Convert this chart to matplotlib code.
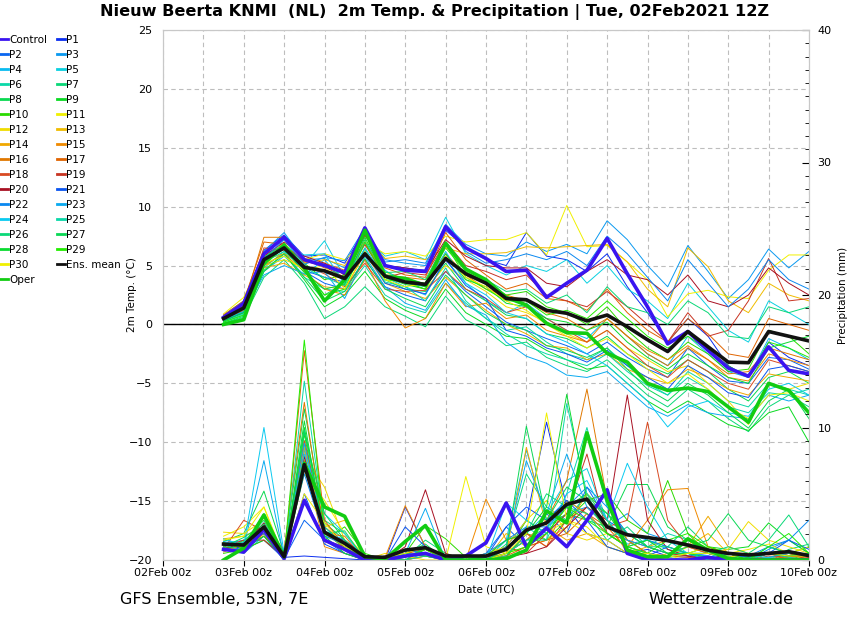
import pandas as pd
import matplotlib
matplotlib.use('Agg')
import matplotlib.pyplot as plt
import matplotlib.dates as mdates
from matplotlib.lines import Line2D
from matplotlib.ticker import MultipleLocator

# 6-hourly steps, 02Feb 18z .. 10Feb 00z
times = pd.date_range('2021-02-02 18:00', '2021-02-10 00:00', freq='6h')

members = ['Control'] + ['P%d' % i for i in range(1, 31)]
colors = ['#3a14f0', '#0a2ef0', '#0a66f0', '#0a99f0', '#0abbf0', '#0ad0e0',
          '#0ad8a8', '#0ad878', '#0ad850', '#0ada22', '#2ada00', '#f0f000',
          '#f0dc00', '#f0bc00', '#f0a800', '#f08a00', '#e07800', '#e06400',
          '#d84a22', '#c83422', '#a81022', '#0a55f0', '#0a88f0', '#0aaaf0',
          '#0acaf0', '#0ad8a8', '#0ad878', '#0ad855', '#0ada30', '#22ee00',
          '#f0f000']

# 2m temperature (°C)
temp = {
    'Control': [0.6,1.8,6.0,7.4,5.5,5.0,4.4,8.2,5.0,4.6,4.5,8.3,6.5,5.6,4.5,4.6,2.3,3.5,4.6,7.3,4.3,1.5,-1.65,-0.6,-2.2,-3.7,-4.4,-1.9,-3.9,-4.2],
    'P1':  [0.7,1.9,6.3,7.6,5.8,5.9,5.2,8.0,5.0,4.8,4.6,8.0,6.5,5.5,5.0,7.8,5.8,5.5,4.5,6.0,3.2,1.0,-1.5,0.5,-1.0,-3.5,-4.5,-1.5,-2.8,-3.5],
    'P2':  [0.4,1.2,5.5,6.4,4.5,3.5,3.0,5.5,3.2,2.5,2.0,4.5,2.8,1.5,0.2,-0.5,-1.2,-1.8,-2.5,-1.5,-2.8,-3.8,-4.5,-2.0,-3.5,-4.8,-5.0,-2.8,-3.0,-3.8],
    'P3':  [0.8,2.0,6.2,7.8,5.5,5.6,4.8,8.0,5.5,5.2,5.0,8.5,6.8,6.0,5.8,7.0,6.2,6.8,6.0,8.8,7.2,5.0,3.2,6.7,4.5,2.2,3.8,6.4,4.8,6.2],
    'P4':  [0.3,1.0,4.5,5.8,4.2,5.5,3.5,6.5,4.0,3.2,2.5,5.5,3.5,2.0,1.0,1.8,0.5,-0.5,-1.2,0.5,-1.0,-2.5,-3.5,-1.0,-2.5,-4.0,-4.5,-1.2,-2.0,-3.0],
    'P5':  [0.5,1.5,5.0,6.0,5.0,7.1,4.0,7.5,5.8,6.2,5.5,9.1,6.0,5.0,4.2,5.0,4.5,5.5,3.5,5.0,3.0,2.0,0.5,3.5,1.5,-0.5,-1.5,2.0,1.0,0.0],
    'P6':  [0.2,0.8,4.8,6.2,4.0,3.0,2.8,5.0,2.5,1.5,1.0,3.5,1.8,0.5,-0.5,-0.2,-1.5,-2.5,-3.0,-2.0,-3.5,-5.0,-6.0,-4.0,-5.0,-6.5,-7.0,-5.0,-5.5,-6.0],
    'P7':  [0.1,0.6,4.0,5.5,3.5,0.5,1.5,3.2,1.5,0.7,-0.2,2.4,0.4,-0.5,-1.8,-1.5,-2.8,-3.5,-4.0,-3.0,-4.5,-6.0,-7.0,-5.5,-6.5,-8.0,-9.1,-7.0,-6.0,-7.0],
    'P8':  [0.3,1.1,5.2,6.6,4.6,2.5,3.5,7.2,3.8,3.0,2.8,5.2,3.0,2.0,0.8,0.5,-0.8,-1.2,-2.0,-1.0,-2.5,-3.5,-4.2,-3.0,-4.0,-5.5,-6.5,-4.5,-4.0,-5.0],
    'P9':  [0.0,0.5,4.5,6.0,3.8,1.5,2.5,4.5,2.2,1.2,0.5,3.0,1.0,0.0,-1.0,-1.2,-2.2,-3.0,-3.8,-3.5,-5.0,-6.5,-7.5,-6.5,-7.5,-8.5,-9.0,-7.5,-7.0,-10.0],
    'P10': [0.4,1.3,5.6,6.9,5.2,3.8,4.2,7.8,4.5,3.8,3.5,6.5,4.5,3.6,2.5,2.8,1.5,1.0,0.0,1.5,-0.5,-2.0,-3.0,-1.5,-2.5,-4.0,-3.8,-0.5,-1.0,-2.5],
    'P11': [0.9,2.3,5.8,6.8,5.5,6.0,5.5,7.0,6.0,6.2,5.8,7.5,7.0,7.2,7.2,7.8,5.9,10.1,6.6,6.7,5.3,3.8,0.65,2.6,2.9,2.35,2.2,4.6,5.9,5.9],
    'P12': [0.6,1.6,5.0,5.5,4.8,4.5,3.8,6.8,4.5,3.5,3.0,5.0,3.8,2.8,1.5,1.0,0.2,-0.8,-1.5,-0.5,-2.0,-3.0,-4.0,-3.5,-5.0,-6.5,-8.5,-5.0,-5.5,-5.0],
    'P13': [0.7,1.8,5.5,6.0,5.2,5.5,5.0,7.5,5.6,5.8,5.5,6.5,6.0,6.0,6.1,6.6,6.5,6.6,6.7,6.8,5.3,3.0,1.5,6.5,4.9,2.0,1.0,3.5,2.5,2.0],
    'P14': [0.5,1.4,4.8,5.2,4.2,3.2,3.0,6.0,3.5,2.8,2.2,4.0,2.5,1.2,0.0,-0.8,-1.8,-2.0,-3.0,-2.5,-3.8,-4.5,-5.0,-3.8,-4.5,-5.5,-6.0,-4.2,-4.5,-4.8],
    'P15': [0.4,1.2,5.0,6.0,4.5,3.0,2.5,5.5,2.0,-0.3,0.5,3.5,1.5,1.8,0.5,0.8,-0.5,-1.0,-1.5,0.5,-1.0,-2.2,-3.0,-1.8,-3.0,-4.5,-4.8,-2.5,-3.0,-3.5],
    'P16': [0.6,1.7,7.4,7.4,5.6,4.8,4.5,7.0,4.2,4.0,3.8,6.0,4.2,3.0,2.5,2.0,1.0,0.5,-0.5,0.5,-1.0,-2.5,-3.5,-2.0,-3.0,-4.2,-4.0,-2.0,-2.5,-3.0],
    'P17': [0.8,2.0,7.0,6.8,5.3,5.2,4.6,7.9,4.8,4.2,4.0,7.8,5.5,4.2,3.0,3.5,2.2,2.0,1.2,3.0,1.0,-0.5,-1.5,0.5,-0.8,-2.5,-2.8,0.5,0.0,-0.5],
    'P18': [0.5,1.5,6.5,6.3,5.0,4.3,3.2,5.2,3.0,2.8,2.9,4.5,3.0,2.2,1.0,1.5,0.5,-0.5,-1.5,-0.5,-2.0,-3.5,-4.5,-3.0,-4.0,-5.0,-5.5,-3.0,-3.5,-4.0],
    'P19': [0.6,1.6,6.0,6.6,5.4,4.9,4.0,6.8,4.0,4.4,4.2,7.0,5.0,4.5,3.8,4.2,2.5,2.0,1.5,2.8,1.5,0.0,-1.5,1.0,-1.0,-0.5,2.0,5.6,2.0,2.2],
    'P20': [0.7,1.8,5.8,7.0,5.8,5.2,4.2,7.6,5.0,4.8,4.5,7.2,5.8,5.0,4.8,4.8,3.5,3.2,4.5,5.5,4.2,3.8,2.5,4.2,2.0,1.5,2.5,4.8,3.5,2.5],
    'P21': [0.3,1.0,5.2,6.5,4.6,4.0,3.6,6.2,3.5,3.0,2.6,5.5,3.3,2.2,-0.5,-1.0,-2.0,-2.5,-3.2,-2.2,-3.5,-4.5,-5.5,-3.5,-4.5,-5.8,-6.2,-3.8,-3.5,-4.0],
    'P22': [0.6,1.5,5.6,7.2,5.1,5.7,5.4,8.2,5.3,5.5,5.2,8.3,6.2,5.2,5.5,6.0,5.5,6.2,5.0,7.5,6.0,4.0,2.0,5.5,3.5,1.5,3.0,5.5,3.8,3.0],
    'P23': [0.4,1.1,4.2,5.0,4.3,4.5,2.2,5.8,3.2,1.8,1.2,3.8,1.6,0.8,-1.5,-2.7,-3.3,-4.3,-4.5,-4.0,-5.5,-7.0,-7.8,-6.8,-7.5,-7.8,-8.0,-6.0,-6.5,-6.0],
    'P24': [0.5,1.3,5.0,6.6,5.9,6.0,3.5,7.0,4.6,3.5,3.2,6.2,3.5,2.5,1.0,0.5,-0.8,-1.5,-2.5,-3.5,-5.0,-6.5,-8.7,-7.0,-6.5,-7.5,-7.8,-5.5,-5.0,-6.0],
    'P25': [0.2,0.9,5.3,6.2,4.8,4.0,3.3,6.4,3.6,3.2,2.0,4.8,2.0,0.5,-0.8,-1.8,-2.5,-3.0,-3.5,-2.5,-4.0,-5.2,-6.0,-4.5,-5.5,-7.0,-7.5,-5.8,-6.0,-5.5],
    'P26': [0.4,1.4,5.7,6.8,5.0,4.5,4.4,7.8,4.4,4.5,3.8,7.0,4.8,3.8,2.8,3.0,1.8,2.5,1.0,3.2,1.5,1.0,0.0,2.0,1.0,-1.0,-1.2,1.5,1.0,1.5],
    'P27': [0.1,0.7,4.6,6.0,4.0,2.0,2.8,5.6,3.0,2.2,1.5,4.2,2.5,1.0,0.0,-0.5,-1.8,-2.2,-2.8,-2.0,-3.8,-5.5,-6.5,-5.0,-6.0,-7.5,-8.8,-6.5,-5.5,-8.0],
    'P28': [0.3,1.0,5.4,6.4,4.4,3.0,3.4,7.4,4.0,3.4,3.0,6.0,3.8,3.2,1.8,1.5,0.5,0.2,-0.5,0.2,-1.5,-2.8,-3.8,-2.5,-3.5,-4.5,-5.0,-2.0,-1.5,-1.0],
    'P29': [0.2,0.8,5.0,6.9,4.7,2.5,3.0,7.0,3.8,3.6,3.0,6.8,4.0,3.0,2.0,2.0,0.8,1.2,0.5,2.0,0.5,-1.0,-2.0,-1.0,-2.2,-3.5,-4.5,-1.5,-2.0,-2.8],
    'P30': [0.7,1.9,5.2,5.8,4.6,5.0,3.0,6.2,3.8,3.2,3.5,5.8,4.0,3.2,2.0,1.2,0.0,-1.0,-2.0,-1.2,-2.5,-3.8,-5.0,-4.2,-5.5,-7.0,-8.0,-6.0,-5.8,-6.5],
}
temp_oper = [0.0,0.4,5.2,6.7,4.8,2.0,3.8,8.0,4.1,3.9,3.3,6.9,4.7,3.8,2.3,1.65,0.1,-0.7,-0.75,-2.45,-3.2,-5.0,-5.6,-5.4,-5.7,-7.0,-8.3,-5.0,-5.6,-7.5]
temp_mean = [0.5,1.4,5.5,6.5,4.85,4.55,3.9,6.0,4.1,3.6,3.4,5.6,4.3,3.5,2.2,2.1,1.2,0.95,0.3,0.8,-0.2,-1.3,-2.3,-0.6,-1.9,-3.2,-3.25,-0.6,-1.0,-1.4]

# 6-hourly precipitation (mm)
prec = {
    'Control': [0.8,0.6,2.3,0.1,4.5,1.5,0.8,0.0,0.0,0.3,0.5,0.0,0.3,1.3,4.3,1.0,2.4,1.0,3.0,5.3,0.5,0.0,0.0,0.0,0.2,0.0,0.0,0.0,0.0,0.0],
    'P1':  [0.8,1.0,2.0,0.2,0.3,0.2,0.1,0.0,0.0,4.0,1.0,0.0,0.0,0.2,1.0,3.0,10.4,4.0,2.0,1.5,0.5,0.8,0.3,0.2,0.0,0.0,0.0,0.5,0.2,0.0],
    'P2':  [1.0,0.8,1.5,0.1,3.0,1.5,0.5,0.0,0.2,0.5,0.3,0.0,0.0,0.5,2.5,1.0,3.5,2.0,5.5,3.0,2.0,1.0,0.5,0.3,0.5,0.0,0.0,0.0,0.3,0.5],
    'P3':  [1.2,1.5,2.5,0.0,7.0,2.0,1.0,0.2,0.0,0.8,0.5,0.2,0.0,0.0,0.5,1.5,2.0,3.5,4.0,2.5,3.5,2.0,1.5,1.0,0.5,0.2,0.0,0.8,1.5,0.5],
    'P4':  [1.5,1.2,2.8,0.3,8.3,2.5,1.2,0.0,0.0,0.3,0.8,0.0,0.0,0.0,1.5,8.3,3.0,4.5,3.5,2.0,1.0,0.5,0.2,0.0,0.0,0.5,0.2,0.0,0.0,0.0],
    'P5':  [1.3,1.0,3.5,0.0,8.8,1.8,1.5,0.3,0.0,0.5,1.0,0.0,0.0,0.0,0.3,2.0,3.5,6.0,6.9,3.0,1.2,1.5,0.8,0.5,0.3,0.0,0.0,0.2,0.5,0.3],
    'P6':  [0.9,0.5,1.8,0.0,9.0,2.2,0.8,0.0,0.2,0.0,0.5,0.0,0.0,0.3,0.8,2.5,1.5,5.0,10.0,4.0,2.0,1.0,2.0,1.5,0.5,0.0,0.0,1.0,0.5,0.0],
    'P7':  [1.1,1.3,2.2,0.2,7.5,3.0,2.0,0.2,0.0,0.2,1.5,0.5,0.0,0.0,1.2,6.5,4.0,3.0,5.0,2.0,1.0,1.5,1.0,2.5,1.0,0.5,0.0,0.0,0.8,1.2],
    'P8':  [1.4,2.0,5.2,0.5,11.4,2.8,1.5,0.0,0.0,0.5,1.2,0.0,0.0,0.0,0.5,1.5,2.5,3.5,3.0,2.5,5.7,5.7,2.5,1.5,0.5,0.2,0.0,0.5,0.5,1.0],
    'P9':  [0.7,1.5,2.0,0.0,10.0,2.0,1.0,0.0,0.3,0.0,0.8,0.2,0.0,0.0,0.5,3.0,2.0,4.0,5.0,3.5,1.5,0.5,0.2,0.5,1.0,0.8,1.0,2.8,1.5,0.5],
    'P10': [0.5,0.8,1.5,0.3,9.5,1.5,2.5,0.5,0.0,0.5,2.6,1.6,0.2,0.0,0.2,2.0,1.5,3.0,4.5,5.0,3.0,2.0,6.0,2.0,0.5,0.3,0.0,0.0,0.3,0.0],
    'P11': [1.8,2.5,4.0,0.2,6.5,4.5,2.0,0.3,0.0,0.8,0.5,0.0,6.3,1.0,0.5,1.0,2.0,3.0,2.5,1.0,0.5,0.3,0.0,0.5,1.0,0.5,0.8,1.2,0.5,1.0],
    'P12': [2.1,2.0,3.0,0.5,7.8,5.5,1.5,0.0,0.5,0.3,0.0,0.0,0.0,0.5,1.0,3.0,4.5,2.0,1.5,2.0,1.0,0.5,0.2,1.0,0.5,0.8,2.9,1.5,1.0,0.5],
    'P13': [1.6,1.8,2.5,0.0,7.0,2.5,3.0,0.2,0.0,0.0,0.3,0.0,0.0,0.0,2.0,1.0,1.5,2.5,5.0,3.0,0.5,0.0,0.5,1.0,2.0,0.5,0.0,0.2,0.0,0.3],
    'P14': [1.0,0.7,2.0,0.0,8.5,2.0,1.0,0.0,0.0,0.5,0.8,0.2,0.0,0.2,0.5,8.5,2.5,1.5,2.0,1.0,0.5,1.0,1.5,1.0,3.3,1.0,0.5,0.0,0.2,0.0],
    'P15': [0.6,1.2,1.8,0.2,7.5,1.0,0.5,0.0,0.2,4.1,1.0,0.0,0.0,4.6,1.5,2.0,1.0,4.5,3.5,2.0,1.0,3.0,5.3,5.4,1.0,0.5,0.3,0.5,0.5,0.2],
    'P16': [1.2,1.0,2.5,0.8,11.9,2.0,1.8,0.0,0.0,0.3,0.5,0.0,0.0,0.0,0.5,1.5,3.0,6.0,12.9,4.5,1.5,0.5,0.3,0.2,0.0,0.2,0.0,0.5,0.0,0.0],
    'P17': [1.3,0.9,2.0,0.0,15.8,3.0,1.0,0.2,0.0,0.0,0.3,0.0,0.0,0.0,0.3,1.0,1.5,2.0,3.5,2.5,0.8,0.3,0.0,0.0,0.2,0.0,0.0,0.0,0.5,0.0],
    'P18': [0.8,3.0,2.2,0.3,9.0,2.5,1.2,0.0,0.0,0.5,0.8,0.0,0.0,0.3,0.3,2.0,1.0,3.0,4.0,2.5,3.0,10.4,3.0,1.0,0.5,0.2,0.0,0.3,0.2,0.5],
    'P19': [1.0,1.5,1.5,0.2,8.0,1.5,1.0,0.0,0.3,0.3,0.5,0.0,0.0,0.0,1.0,0.5,2.0,3.5,8.0,2.0,1.5,1.0,0.5,0.3,0.2,0.0,0.0,0.5,0.3,0.2],
    'P20': [0.9,1.2,2.8,0.0,7.8,2.0,1.5,0.3,0.0,1.0,5.3,0.5,0.0,0.0,0.2,0.5,1.0,2.5,4.0,3.0,12.45,3.0,0.8,0.3,0.0,0.5,0.0,0.0,0.0,0.0],
    'P21': [0.7,0.8,1.8,0.0,5.0,1.2,0.5,0.0,0.0,2.5,1.0,0.0,0.0,0.2,2.5,4.0,3.0,4.5,3.0,1.0,0.5,0.3,1.0,0.5,0.0,0.0,0.2,0.5,1.5,0.8],
    'P22': [1.1,1.3,2.0,0.3,6.5,1.8,1.2,0.0,0.0,0.8,0.5,0.0,0.0,0.5,1.5,2.5,2.5,4.0,5.5,4.0,2.0,1.5,1.0,0.5,0.5,0.2,0.3,1.0,1.5,3.0],
    'P23': [1.4,1.0,7.5,0.2,8.8,2.2,1.5,0.0,0.0,0.5,3.9,0.0,0.0,0.0,1.0,7.5,3.5,8.0,4.0,2.5,1.5,1.0,0.5,0.5,0.3,0.0,0.0,0.2,0.5,0.5],
    'P24': [1.6,1.1,10.0,0.5,8.0,3.5,2.0,0.0,0.0,0.3,0.5,0.0,0.0,0.0,4.3,3.0,2.0,5.0,6.0,3.0,7.3,4.0,1.5,0.5,0.2,0.5,0.3,0.2,0.0,0.0],
    'P25': [1.2,0.6,2.5,0.0,13.5,2.5,1.0,0.2,0.0,0.0,0.3,0.0,0.0,0.0,0.5,1.5,1.5,11.8,5.0,3.0,1.0,0.5,0.2,0.5,0.0,0.0,0.0,0.5,0.2,0.0],
    'P26': [0.9,1.4,3.0,0.0,9.8,2.0,2.2,0.0,0.0,0.0,1.0,0.3,0.0,0.0,0.3,2.0,5.0,4.0,3.5,1.5,2.5,1.0,1.0,0.5,0.5,1.0,0.5,1.5,3.4,1.0],
    'P27': [1.0,1.7,2.7,0.3,9.6,3.5,1.5,0.0,0.0,0.5,0.3,0.0,0.0,0.0,0.8,10.1,3.0,5.5,4.5,3.5,2.0,1.0,0.5,1.0,1.5,3.5,1.5,1.0,0.5,0.3],
    'P28': [0.8,1.2,2.3,0.0,10.5,1.8,0.5,0.0,0.0,0.3,0.5,0.0,0.0,0.3,1.5,2.0,4.0,12.5,4.5,2.0,1.0,1.5,0.5,0.5,0.2,0.0,0.2,0.5,0.3,0.5],
    'P29': [1.3,0.9,1.8,0.2,16.6,2.0,1.2,0.0,0.0,0.2,0.8,0.0,0.0,0.0,0.5,1.0,2.0,4.0,3.0,2.0,1.0,0.5,1.5,2.0,1.0,0.5,0.0,1.0,2.0,0.5],
    'P30': [1.5,1.8,4.0,0.0,5.0,2.8,1.0,0.3,0.2,0.5,1.0,0.2,0.0,0.0,0.5,2.0,11.1,3.0,2.0,1.5,0.5,0.5,0.2,0.5,0.5,0.2,0.5,0.5,0.3,0.3],
}
prec_oper = [0.0,0.9,3.4,0.25,7.3,4.0,3.3,0.25,0.05,1.4,2.6,0.0,0.0,0.0,0.1,0.75,3.7,2.8,9.6,4.5,0.75,0.25,0.25,1.6,0.75,0.1,0.0,0.0,0.0,0.0]
prec_mean = [1.2,1.13,2.5,0.25,7.2,2.1,1.26,0.25,0.2,0.75,0.93,0.3,0.3,0.3,0.8,2.26,2.8,4.2,4.6,2.5,1.9,1.7,1.46,1.13,0.75,0.5,0.38,0.5,0.63,0.33]

oper_color = '#12cc12'

fig = plt.figure(figsize=(8.5, 6.2), dpi=100)
ax = fig.add_axes([163/850, 60/620, 646/850, 530/620])
ax2 = ax.twinx()

# members first, thin
for name, c in zip(members, colors):
    if name == 'Control':
        continue
    ax.plot(times, temp[name], color=c, lw=0.7)
    ax2.plot(times, prec[name], color=c, lw=0.7)

ax.plot(times, temp['Control'], color=colors[0], lw=2.6)
ax2.plot(times, prec['Control'], color=colors[0], lw=2.6)
ax.plot(times, temp_oper, color=oper_color, lw=2.6)
ax2.plot(times, prec_oper, color=oper_color, lw=2.6)
ax.plot(times, temp_mean, color='#111111', lw=2.6)
ax2.plot(times, prec_mean, color='#111111', lw=2.6)

ax.axhline(0, color='black', lw=1.0, zorder=1)

# axes / scales
ax.set_xlim(pd.Timestamp('2021-02-02 00:00'), pd.Timestamp('2021-02-10 00:00'))
ax.set_ylim(-20, 25)
ax2.set_ylim(0, 40)
ax.set_yticks(range(-20, 26, 5))
ax.xaxis.set_major_locator(mdates.DayLocator())
ax.xaxis.set_minor_locator(mdates.HourLocator(byhour=[12]))
ax.xaxis.set_major_formatter(mdates.DateFormatter('%d%b %Hz'))

ax.grid(True, which='both', color='#bdbdbd', ls=(0, (4, 3)), lw=0.8)
ax.set_axisbelow(True)
ax.tick_params(axis='y', length=0, pad=8, labelsize=8)
ax.tick_params(axis='x', which='major', length=4, direction='out', pad=2, labelsize=8)
ax.tick_params(axis='x', which='minor', length=0)

ax2.yaxis.set_major_locator(MultipleLocator(10))
ax2.yaxis.set_minor_locator(MultipleLocator(1))
ax2.tick_params(axis='y', which='major', direction='in', length=5, pad=6, labelsize=8)
ax2.tick_params(axis='y', which='minor', direction='in', length=3)

for a in (ax, ax2):
    for sp in a.spines.values():
        sp.set_color('#c8c8c8')

ax.set_ylabel('2m Temp. (°C)', fontsize=7.5)
ax.yaxis.set_label_coords(-0.041, 0.5)
ax2.set_ylabel('Precipitation (mm)', fontsize=7.5)
ax2.yaxis.set_label_coords(1.045, 0.5)
ax.set_xlabel('Date (UTC)', fontsize=7.5)
ax.xaxis.set_label_coords(0.5, -0.046)

fig.text(435/850, 1 - 12/620,
         'Nieuw Beerta KNMI  (NL)  2m Temp. & Precipitation | Tue, 02Feb2021 12Z',
         ha='center', va='center', fontsize=11.6, fontweight='bold')
fig.text(120/850, 1 - 599/620, 'GFS Ensemble, 53N, 7E', ha='left', va='center', fontsize=11.5)
fig.text(793/850, 1 - 599/620, 'Wetterzentrale.de', ha='right', va='center', fontsize=11.5)

# legend, row-major order as in the original (Control P1 / P2 P3 / ...)
labels = members + ['Ens. mean', 'Oper']
lcolors = colors + ['#111111', oper_color]
entries = list(zip(labels, lcolors))
col1 = entries[0::2]
col2 = entries[1::2]
ordered = col1 + col2
handles = [Line2D([], [], color=c, lw=2) for _, c in ordered]
fig.legend(handles, [l for l, _ in ordered], ncol=2, loc='upper left',
           bbox_to_anchor=(0.0, 1 - 35/620), frameon=False, fontsize=7.5,
           handlelength=0.8, handletextpad=0.1, columnspacing=0.9,
           labelspacing=0.48, borderpad=0, borderaxespad=0)

fig.savefig('out.png', dpi=100)
